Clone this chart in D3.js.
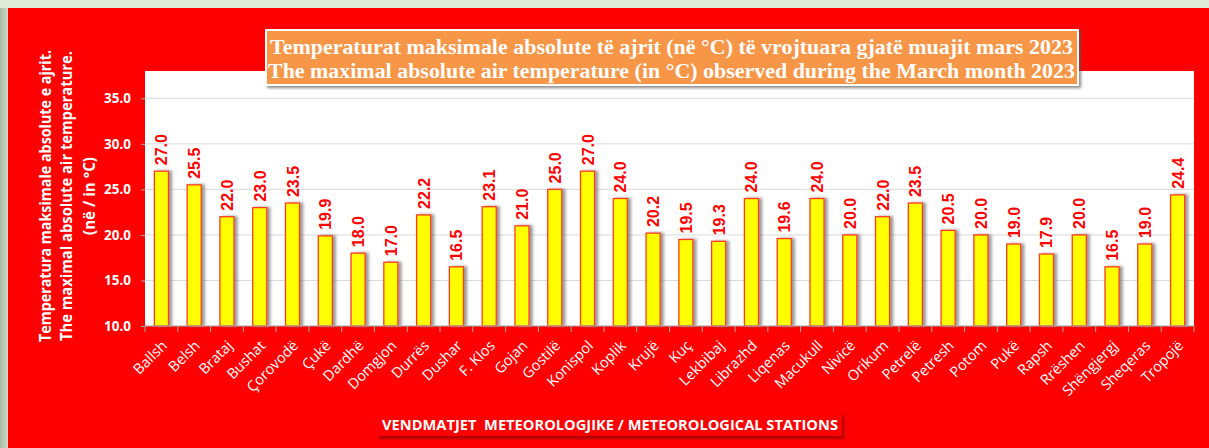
<!DOCTYPE html>
<html><head><meta charset="utf-8">
<script src="https://cdn.jsdelivr.net/npm/d3@7"></script>
<style>html,body{margin:0;padding:0;background:#e1ebd7;overflow:hidden}svg{display:block}</style>
</head><body>
<svg id="c" width="1209" height="448"></svg>
<script>
const stations = ["Ballsh","Belsh","Brataj","Bushat","Çorovodë","Çukë","Dardhë","Domgjon","Durrës","Dushar","F. Klos","Gojan","Gostilë","Konispol","Koplik","Krujë","Kuç","Lekbibaj","Librazhd","Liqenas","Macukull","Nivicë","Orikum","Petrelë","Petresh","Potom","Pukë","Rapsh","Rrëshen","Shëngjergj","Sheqeras","Tropojë"];
const values = [27.0,25.5,22.0,23.0,23.5,19.9,18.0,17.0,22.2,16.5,23.1,21.0,25.0,27.0,24.0,20.2,19.5,19.3,24.0,19.6,24.0,20.0,22.0,23.5,20.5,20.0,19.0,17.9,20.0,16.5,19.0,24.4];
const yTicks = [10,15,20,25,30,35];
const titleLines = ["Temperaturat maksimale absolute të ajrit (në °C) të vrojtuara gjatë muajit mars 2023","The maximal absolute air temperature (in °C) observed during the March month 2023"];
const yTitleLines = ["Temperatura maksimale absolute e ajrit.","The maximal absolute air temperature.","(në / in °C)"];
const xTitle = "VENDMATJET  METEOROLOGJIKE / METEOROLOGICAL STATIONS";

const svg = d3.select("#c");
const defs = svg.append("defs");
const lg = defs.append("linearGradient").attr("id","lside").attr("x1",0).attr("x2",1);
lg.append("stop").attr("offset",0).attr("stop-color","#a8b7a4");
lg.append("stop").attr("offset",1).attr("stop-color","#cfdac8");
const f = defs.append("filter").attr("id","bsh").attr("x","-50%").attr("y","-10%").attr("width","200%").attr("height","120%");
f.append("feDropShadow").attr("dx",3).attr("dy",0).attr("stdDeviation",1.6).attr("flood-color","#777").attr("flood-opacity",0.75);
const f2 = defs.append("filter").attr("id","tsh").attr("x","-5%").attr("y","-20%").attr("width","110%").attr("height","150%");
f2.append("feDropShadow").attr("dx",2).attr("dy",2).attr("stdDeviation",1.5).attr("flood-color","#555").attr("flood-opacity",0.7);
const f3 = defs.append("filter").attr("id","xsh").attr("x","-5%").attr("y","-20%").attr("width","110%").attr("height","160%");
f3.append("feDropShadow").attr("dx",2).attr("dy",3).attr("stdDeviation",1.5).attr("flood-color","#900").attr("flood-opacity",0.8);

// backgrounds
svg.append("rect").attr("x",0).attr("y",0).attr("width",1209).attr("height",448).attr("fill","#e1ebd7");
svg.append("rect").attr("x",0).attr("y",8).attr("width",8).attr("height",440).attr("fill","url(#lside)");
svg.append("rect").attr("x",8).attr("y",8).attr("width",1201).attr("height",440).attr("fill","#ff0000");

const m = {l:145, r:1194, t:71, b:326};
svg.append("rect").attr("x",m.l).attr("y",m.t).attr("width",m.r-m.l).attr("height",m.b-m.t).attr("fill","#ffffff");

const x = d3.scaleBand().domain(stations).range([m.l,m.r]).paddingInner(0.57).paddingOuter(0.285);
const y = d3.scaleLinear().domain([10,38]).range([m.b,m.t]);

// gridlines
svg.append("g").selectAll("line").data(yTicks.filter(d=>d>10)).join("line")
  .attr("x1",m.l).attr("x2",m.r).attr("y1",d=>y(d)).attr("y2",d=>y(d))
  .attr("stroke","#d9d9d9").attr("stroke-width",1);

// y axis
const ya = svg.append("g").attr("transform",`translate(${m.l},0)`)
  .call(d3.axisLeft(y).tickValues(yTicks).tickFormat(d3.format(".1f")).tickSize(4).tickPadding(10));
ya.select(".domain").remove();
ya.selectAll(".tick line").attr("stroke","#a6a6a6");
ya.selectAll(".tick text").attr("fill","#ffffff").attr("font-family","'Open Sans',sans-serif").attr("font-weight","bold").attr("font-size","13.5px");

// bars
svg.append("g").selectAll("rect").data(stations).join("rect")
  .attr("x",d=>x(d)).attr("width",x.bandwidth())
  .attr("y",(d,i)=>y(values[i])).attr("height",(d,i)=>m.b-y(values[i]))
  .attr("fill","#ffff00").attr("stroke","#ff3c1e").attr("stroke-width",1.3)
  .attr("filter","url(#bsh)");

// x axis
const xa = svg.append("g").attr("transform",`translate(0,${m.b})`);
xa.append("line").attr("x1",m.l).attr("x2",m.r).attr("stroke","#a6a6a6").attr("stroke-width",1.2);
xa.selectAll("line.tk").data(d3.range(stations.length+1)).join("line").attr("class","tk")
  .attr("x1",i=>m.l+i*(m.r-m.l)/stations.length).attr("x2",i=>m.l+i*(m.r-m.l)/stations.length)
  .attr("y1",0).attr("y2",6).attr("stroke","#a6a6a6");
xa.selectAll("text").data(stations).join("text")
  .attr("transform",d=>`translate(${x(d)+x.bandwidth()/2+3},${17}) rotate(-45)`)
  .attr("text-anchor","end").attr("dy","0.35em")
  .attr("fill","#ffffff").attr("font-family","'Open Sans',sans-serif").attr("font-size","14.5px")
  .text(d=>d);

// value labels
svg.append("g").selectAll("text").data(stations).join("text")
  .attr("transform",(d,i)=>`translate(${x(d)+x.bandwidth()/2+6},${y(values[i])-6}) rotate(-90)`)
  .attr("fill","#ff0000").attr("font-family","'Liberation Sans',Arial,sans-serif").attr("font-weight","bold").attr("font-size","16px")
  .text((d,i)=>d3.format(".1f")(values[i]));

// y title
const yt = svg.append("text").attr("transform","translate(0,196) rotate(-90)")
  .attr("text-anchor","middle").attr("fill","#ffffff").attr("font-family","'Open Sans',sans-serif").attr("font-weight","bold").attr("font-size","16px");
const ytx = [51,72,95], ytl = [292,290,78];
yTitleLines.forEach((t,i)=>yt.append("tspan").attr("x",0).attr("y",ytx[i]).attr("textLength",ytl[i]).attr("lengthAdjust","spacingAndGlyphs").text(t));

// title box
svg.append("rect").attr("x",266).attr("y",30).attr("width",812).attr("height",55)
  .attr("fill","#f79646").attr("stroke","#ffffff").attr("stroke-width",2).attr("filter","url(#tsh)");
const tt = svg.append("text").attr("fill","#ffffff").attr("font-family","'Liberation Serif','Times New Roman',serif").attr("font-weight","bold").attr("font-size","22px");
tt.append("tspan").attr("x",270).attr("y",54).attr("textLength",803).attr("lengthAdjust","spacingAndGlyphs").text(titleLines[0]);
tt.append("tspan").attr("x",268).attr("y",78).attr("textLength",807).attr("lengthAdjust","spacingAndGlyphs").text(titleLines[1]);

// x title box
svg.append("rect").attr("x",377).attr("y",412).attr("width",465).attr("height",24)
  .attr("fill","#ff0000").attr("filter","url(#xsh)");
svg.append("text").attr("x",382).attr("y",430).attr("fill","#ffffff").attr("font-family","'Open Sans',sans-serif").attr("font-weight","bold").attr("font-size","14px")
  .attr("textLength",456).attr("lengthAdjust","spacingAndGlyphs").style("white-space","pre").text(xTitle);
</script>
</body></html>
